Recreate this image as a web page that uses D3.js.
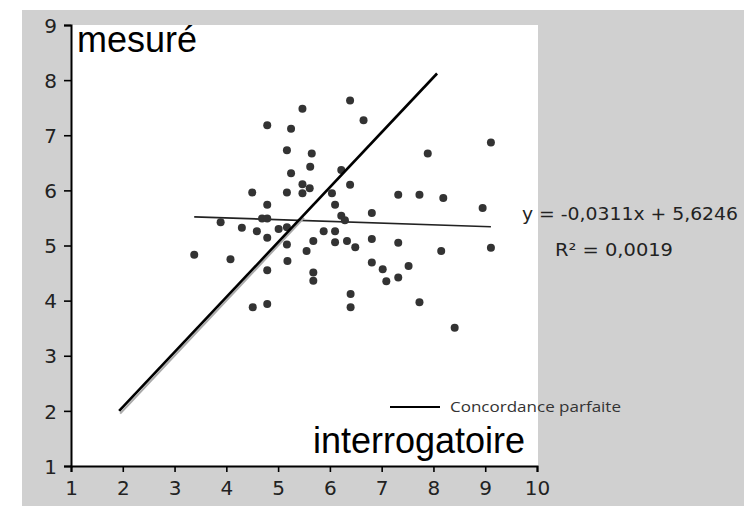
<!DOCTYPE html>
<html><head><meta charset="utf-8">
<script src="https://cdn.jsdelivr.net/npm/d3@7"></script>
<style>body{margin:0;background:#fff}svg{display:block}</style>
</head><body>
<script>
// ---- data ----
const interrogatoire = [5.47,6.39,6.65,4.79,5.25,9.11,5.17,5.65,7.89,5.62,6.22,5.25,5.47,5.61,6.39,4.50,5.17,5.47,6.04,7.32,7.73,8.19,4.79,6.10,8.95,6.81,6.22,6.29,4.69,4.79,3.89,4.30,4.59,5.01,5.17,5.88,6.10,4.79,5.17,5.68,6.10,6.33,6.49,6.81,7.32,8.15,9.11,5.55,3.38,4.08,5.18,4.79,5.68,5.68,6.81,7.02,7.52,7.09,7.32,6.40,6.40,7.73,8.41,4.51,4.79];
const mesure = [7.48,7.63,7.27,7.18,7.12,6.87,6.73,6.67,6.67,6.43,6.37,6.31,6.11,6.04,6.10,5.96,5.96,5.95,5.95,5.92,5.92,5.86,5.74,5.74,5.68,5.59,5.54,5.46,5.49,5.49,5.42,5.32,5.26,5.30,5.33,5.26,5.26,5.14,5.02,5.08,5.06,5.08,4.97,5.12,5.05,4.90,4.96,4.90,4.83,4.75,4.72,4.55,4.51,4.36,4.69,4.57,4.63,4.35,4.42,4.12,3.88,3.97,3.51,3.88,3.94];
const xTicks = [1,2,3,4,5,6,7,8,9,10];
const yTicks = [1,2,3,4,5,6,7,8,9];
const slope = -0.0311, intercept = 5.6246;
const equationText = "y = -0,0311x + 5,6246";
const r2Text = "R² = 0,0019";
const perfectLine = [[1.93,2.0],[8.07,8.12]];
const perfectShadow = [[1.95,1.95],[5.5,5.5]];
const legendLabel = "Concordance parfaite";
const yTitle = "mesuré", xTitle = "interrogatoire";

// ---- layout ----
const W = 753, H = 506;
const svg = d3.select("body").append("svg").attr("width", W).attr("height", H);
svg.append("rect").attr("x",22).attr("y",10).attr("width",722).attr("height",H-10).attr("fill","#d0d0d0");
const x = d3.scaleLinear().domain([1,10]).range([71,537]);
const y = d3.scaleLinear().domain([1,9]).range([466,25]);
svg.append("rect").attr("x",72).attr("y",25).attr("width",466).attr("height",441).attr("fill","#fff");

const tickFont = "'DejaVu Sans', sans-serif";
// axes
const xAxis = svg.append("g").attr("transform","translate(0,466)")
  .call(d3.axisBottom(x).tickValues(xTicks).tickSize(6).tickPadding(9).tickFormat(d3.format("d")));
const yAxis = svg.append("g").attr("transform","translate(71,0)")
  .call(d3.axisLeft(y).tickValues(yTicks).tickSize(7).tickPadding(7).tickFormat(d3.format("d")));
[xAxis,yAxis].forEach(g=>{
  g.attr("font-size",null).attr("font-family",null);
  g.select(".domain").attr("stroke","#000").attr("stroke-width",2);
  g.selectAll(".tick line").attr("stroke","#000").attr("stroke-width",1.6);
  g.selectAll(".tick text").attr("fill","#222").style("font-family",tickFont).style("font-size","20px");
});
yAxis.selectAll(".tick text").attr("dy","0.36em");
xAxis.selectAll(".tick text").attr("dy","0.72em");

// regression line
const ext = d3.extent(interrogatoire);
const line = d3.line().x(d=>x(d[0])).y(d=>y(d[1]));
svg.append("path").datum(ext.map(v=>[v, slope*v+intercept]))
  .attr("d",line).attr("stroke","#222").attr("stroke-width",1.6).attr("fill","none");

// points
svg.append("g").selectAll("circle").data(interrogatoire.map((v,i)=>[v,mesure[i]]))
  .join("circle").attr("cx",d=>x(d[0])).attr("cy",d=>y(d[1])).attr("r",4).attr("fill","#333");

// perfect concordance
svg.append("path").datum(perfectShadow).attr("d",line).attr("stroke","#aaa").attr("stroke-width",2).attr("fill","none");
svg.append("path").datum(perfectLine).attr("d",line).attr("stroke","#000").attr("stroke-width",2.6).attr("fill","none");

// legend
svg.append("line").attr("x1",390).attr("x2",440).attr("y1",407).attr("y2",407).attr("stroke","#000").attr("stroke-width",2);
svg.append("text").attr("x",450).attr("y",412).text(legendLabel)
  .attr("fill","#333").style("font-family","'Open Sans', sans-serif").style("font-size","14px")
  .attr("textLength",171).attr("lengthAdjust","spacingAndGlyphs");

// equation
svg.append("text").attr("x",522).attr("y",220).text(equationText)
  .attr("fill","#222").style("font-family",tickFont).style("font-size","17px")
  .attr("textLength",216).attr("lengthAdjust","spacingAndGlyphs");
svg.append("text").attr("x",555).attr("y",255.5).text(r2Text)
  .attr("fill","#222").style("font-family",tickFont).style("font-size","17px")
  .attr("textLength",118).attr("lengthAdjust","spacingAndGlyphs");

// axis titles
svg.append("text").attr("x",77).attr("y",52).text(yTitle)
  .style("font-family","'Liberation Sans', Arial, sans-serif").style("font-size","36px").attr("fill","#000");
svg.append("text").attr("x",313).attr("y",453).text(xTitle)
  .style("font-family","'Liberation Sans', Arial, sans-serif").style("font-size","36px").attr("fill","#000");
</script>
</body></html>
